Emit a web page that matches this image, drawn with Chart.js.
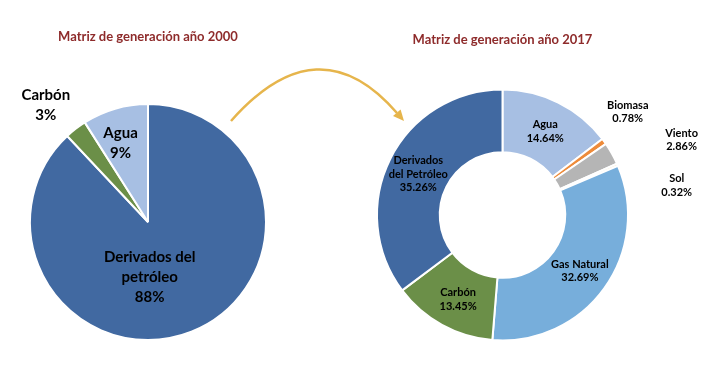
<!DOCTYPE html>
<html>
<head>
<meta charset="utf-8">
<script src="https://cdn.jsdelivr.net/npm/chart.js@4/dist/chart.umd.min.js"></script>
<style>
  body { margin: 0; background: #fff; }
  #wrap { position: relative; width: 710px; height: 375px; overflow: hidden; }
  .box { position: absolute; top: 0; height: 375px; }
  #box2000 { left: 0; width: 300px; }
  #box2017 { left: 360px; width: 350px; }
  #arrow { position: absolute; left: 0; top: 0; }
</style>
</head>
<body>
<div id="wrap">
  <div class="box" id="box2000"><canvas id="chart2000" width="300" height="375"></canvas></div>
  <div class="box" id="box2017"><canvas id="chart2017" width="350" height="375"></canvas></div>
  <svg id="arrow" width="710" height="375">
    <path d="M231,121 Q318.5,22 397,113" fill="none" stroke="#E6B54C" stroke-width="2.5"/>
    <polygon points="404,121 393,116 400.6,109.4" fill="#E6B54C"/>
  </svg>
</div>
<script>
'use strict';

// 2000
let labels2000 = [['Derivados del', 'petróleo'], 'Carbón', 'Agua'];
let values2000 = [88, 3, 9];
let colors2000 = ['#4169A1', '#6B8F48', '#A7BFE3'];

// 2017
let labels2017 = ['Agua', 'Biomasa', 'Viento', 'Sol', 'Gas Natural', 'Carbón', ['Derivados', 'del Petróleo']];
let values2017 = [14.64, 0.78, 2.86, 0.32, 32.69, 13.45, 35.26];
let colors2017 = ['#A7BFE3', '#EE8B3A', '#B5B5B5', '#F7E9CB', '#77AEDB', '#6B8F48', '#4169A1'];

let titleColor = '#8E2B2B';

// draws the name and percentage of every slice, shifted off the slice centre when needed
const sliceLabels = {
    id: 'sliceLabels',
    afterDatasetsDraw(chart, args, opts) {
        let ctx = chart.ctx;
        let meta = chart.getDatasetMeta(0);
        let data = chart.data.datasets[0].data;
        ctx.save();
        ctx.font = 'bold ' + opts.size + 'px Lato';
        ctx.fillStyle = '#000';
        ctx.textAlign = 'center';
        ctx.textBaseline = 'middle';
        meta.data.forEach(function (arc, i) {
            let p = arc.tooltipPosition();
            let shift = opts.shifts[i] || [0, 0];
            let name = chart.data.labels[i];
            let lines = Array.isArray(name) ? name.slice() : [name];
            lines.push(data[i].toFixed(opts.decimals) + '%');
            let y0 = p.y + shift[1] - (lines.length - 1) * opts.lineHeight / 2;
            for (let j = 0; j < lines.length; j++) {
                ctx.fillText(lines[j], p.x + shift[0], y0 + j * opts.lineHeight);
            }
        });
        ctx.restore();
    }
};

function titleOpts(text, top, bottom) {
    return {
        display: true,
        text: text,
        color: titleColor,
        font: { family: 'Lato', size: 13, weight: 'bold', lineHeight: 1.2 },
        padding: { top: top, bottom: bottom }
    };
}

new Chart(document.getElementById('chart2000'), {
    type: 'pie',
    data: {
        labels: labels2000,
        datasets: [{
            data: values2000,
            backgroundColor: colors2000,
            borderColor: '#fff',
            borderWidth: 2,
            hoverOffset: 0
        }]
    },
    options: {
        responsive: false,
        animation: false,
        layout: { padding: { left: 29, right: 33, top: 0, bottom: 34 } },
        plugins: {
            legend: { display: false },
            tooltip: { enabled: false },
            title: titleOpts('Matriz de generación año 2000', 29.2, 58.2),
            sliceLabels: {
                size: 15,
                lineHeight: 20,
                decimals: 0,
                shifts: [[-20, 0], [-66, -70], [-11, -22]]
            }
        }
    },
    plugins: [sliceLabels]
});

new Chart(document.getElementById('chart2017'), {
    type: 'doughnut',
    data: {
        labels: labels2017,
        datasets: [{
            data: values2017,
            backgroundColor: colors2017,
            borderColor: '#fff',
            borderWidth: 2,
            hoverOffset: 0
        }]
    },
    options: {
        responsive: false,
        animation: false,
        cutout: '50%',
        layout: { padding: { left: 16, right: 81, top: 0, bottom: 33.5 } },
        plugins: {
            legend: { display: false },
            tooltip: { enabled: false },
            title: titleOpts('Matriz de generación año 2017', 32.2, 40.7),
            sliceLabels: {
                size: 11,
                lineHeight: 13.5,
                decimals: 2,
                shifts: [[1, 1], [49, -48], [97, -29], [88, 8], [1, 1], [1, 2], [0, 1]]
            }
        }
    },
    plugins: [sliceLabels]
});
</script>
</body>
</html>
